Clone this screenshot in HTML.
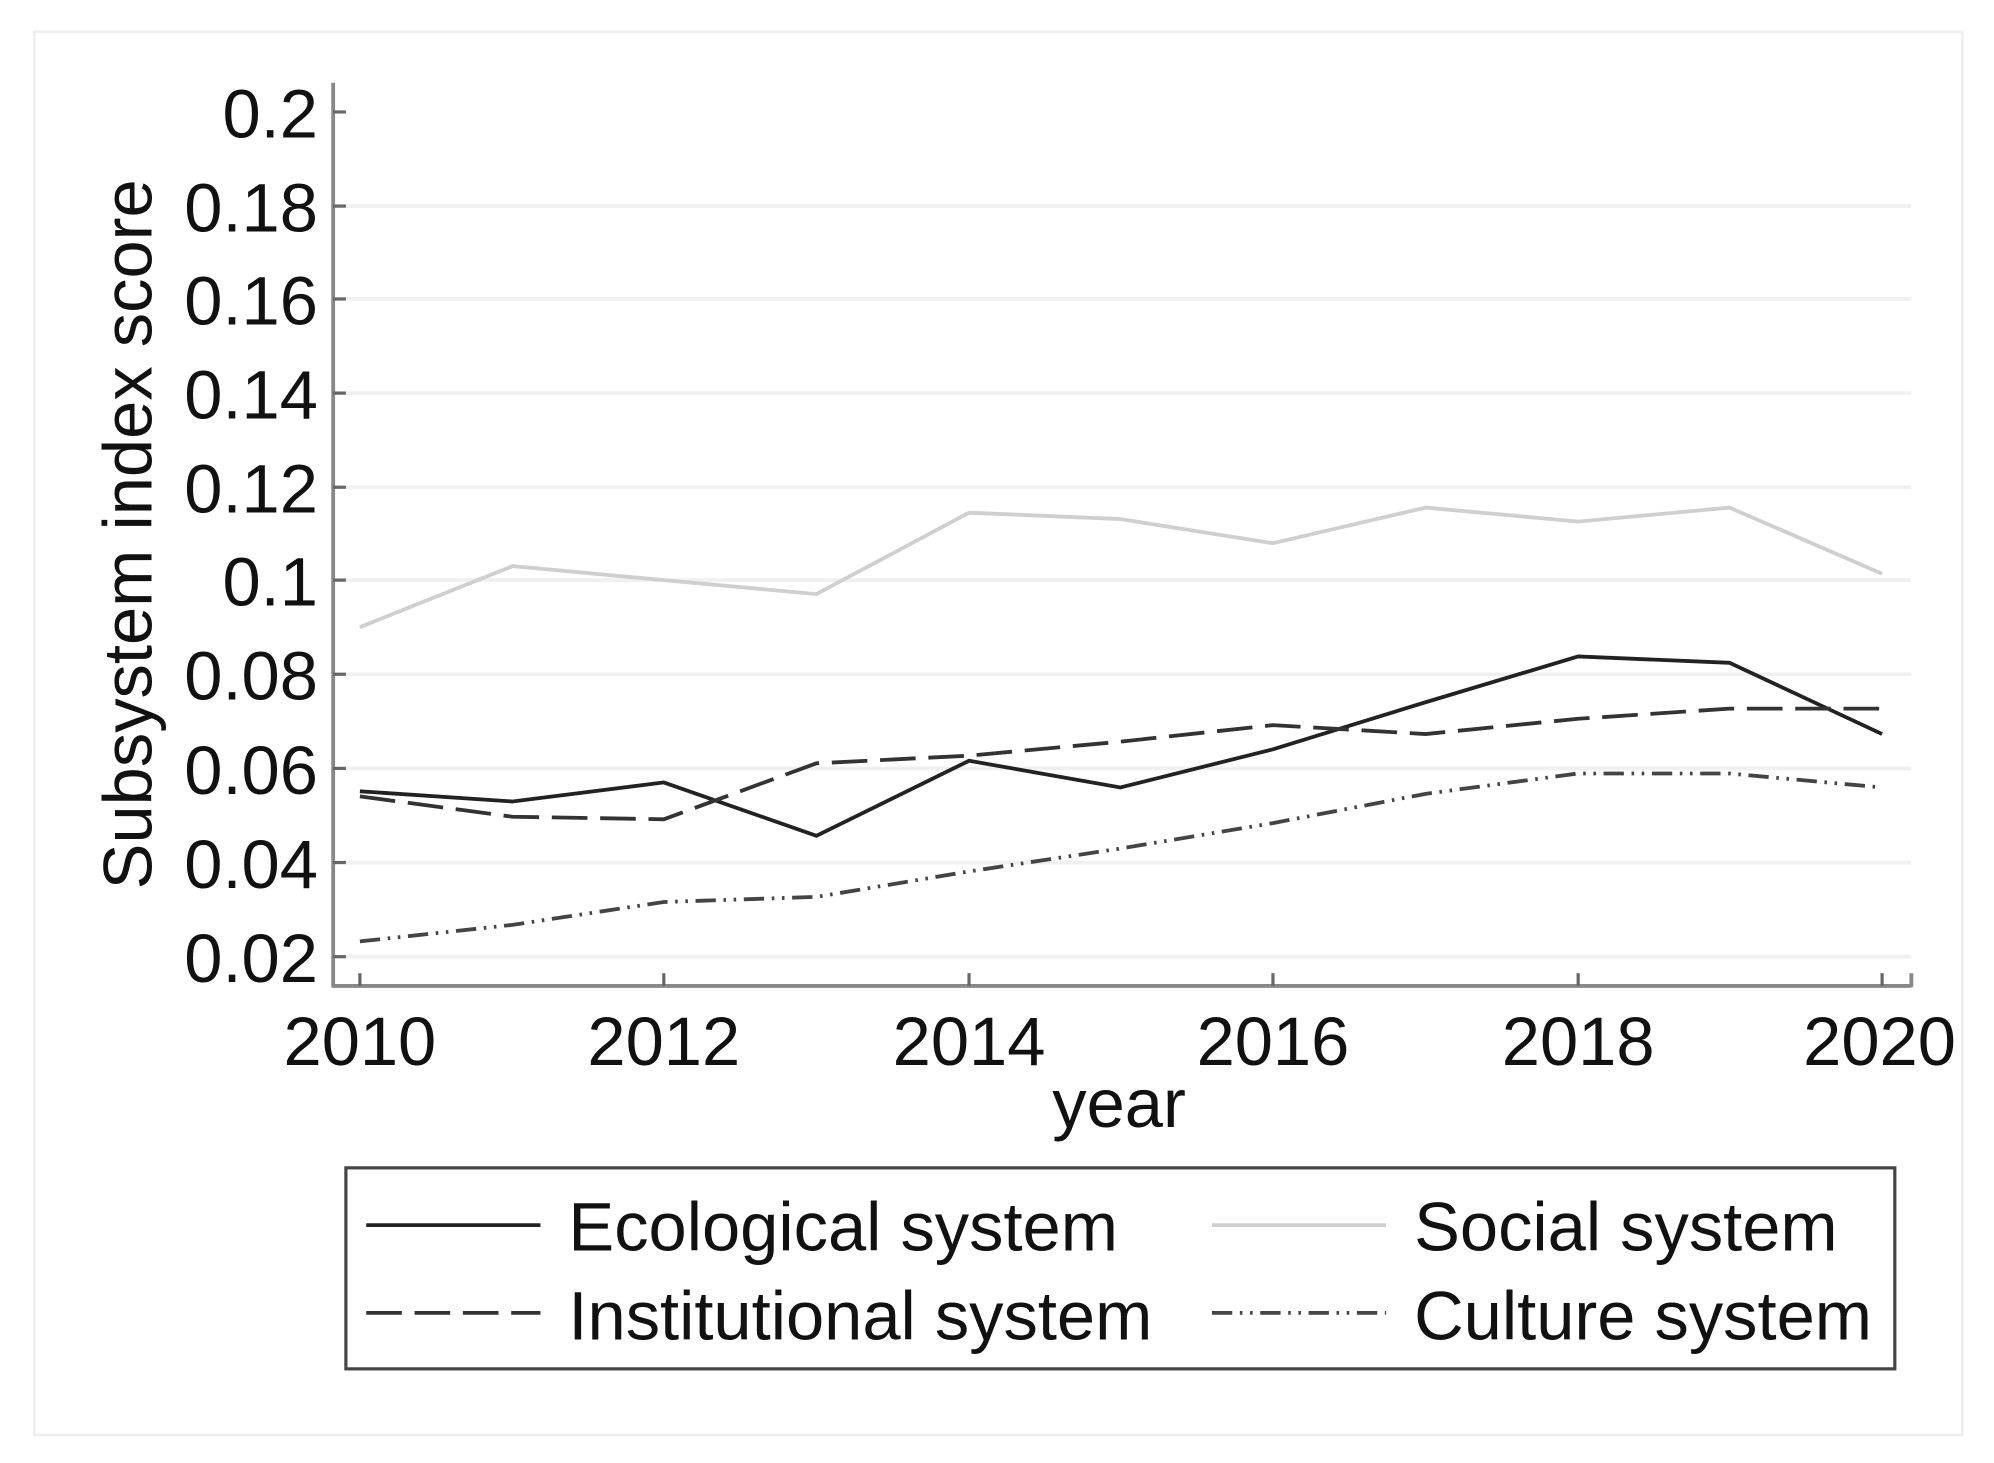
<!DOCTYPE html>
<html><head><meta charset="utf-8"><style>
html,body{margin:0;padding:0;background:#fff;}
svg{display:block;}
text{font-family:"Liberation Sans",Arial,sans-serif;fill:#111;}
</style></head><body>
<svg width="1994" height="1463" viewBox="0 0 1568 1150" preserveAspectRatio="none" xmlns="http://www.w3.org/2000/svg">
<rect x="0" y="0" width="1568" height="1150" fill="#fff"/>
<rect x="27" y="25" width="1516" height="1103" fill="none" stroke="#eeeeee" stroke-width="2"/>
<g stroke="#f0f0f0" stroke-width="3">
<line x1="262" x2="1503" y1="162" y2="162"/>
<line x1="262" x2="1503" y1="235" y2="235"/>
<line x1="262" x2="1503" y1="309" y2="309"/>
<line x1="262" x2="1503" y1="383" y2="383"/>
<line x1="262" x2="1503" y1="456" y2="456"/>
<line x1="262" x2="1503" y1="530" y2="530"/>
<line x1="262" x2="1503" y1="604" y2="604"/>
<line x1="262" x2="1503" y1="678" y2="678"/>
<line x1="262" x2="1503" y1="752" y2="752"/>
</g>
<g stroke="#888" stroke-width="3">
<line x1="262" y1="65" x2="262" y2="776"/>
<line x1="261" y1="775" x2="1503" y2="775"/>
<line x1="1503" y1="765" x2="1503" y2="776"/>
</g>
<g stroke="#666" stroke-width="2.5">
<line x1="262" x2="272" y1="88" y2="88"/><line x1="262" x2="272" y1="162" y2="162"/>
<line x1="262" x2="272" y1="235" y2="235"/><line x1="262" x2="272" y1="309" y2="309"/>
<line x1="262" x2="272" y1="383" y2="383"/><line x1="262" x2="272" y1="456" y2="456"/>
<line x1="262" x2="272" y1="530" y2="530"/><line x1="262" x2="272" y1="604" y2="604"/>
<line x1="262" x2="272" y1="678" y2="678"/><line x1="262" x2="272" y1="752" y2="752"/>
<line x1="283" x2="283" y1="765" y2="775"/><line x1="522" x2="522" y1="765" y2="775"/>
<line x1="762" x2="762" y1="765" y2="775"/><line x1="1001" x2="1001" y1="765" y2="775"/>
<line x1="1241" x2="1241" y1="765" y2="775"/><line x1="1480" x2="1480" y1="765" y2="775"/>
</g>
<g font-size="54" text-anchor="end">
<text x="250" y="108">0.2</text><text x="250" y="182">0.18</text>
<text x="250" y="255">0.16</text><text x="250" y="329">0.14</text>
<text x="250" y="403">0.12</text><text x="250" y="476">0.1</text>
<text x="250" y="550">0.08</text><text x="250" y="624">0.06</text>
<text x="250" y="698">0.04</text><text x="250" y="772">0.02</text>
</g>
<g font-size="54" text-anchor="middle">
<text x="283" y="837">2010</text><text x="522" y="837">2012</text>
<text x="762" y="837">2014</text><text x="1001" y="837">2016</text>
<text x="1241" y="837">2018</text><text x="1478" y="837">2020</text>
<text x="880" y="886">year</text>
</g>
<text font-size="54" text-anchor="middle" transform="translate(119,420) rotate(-90)">Subsystem index score</text>
<g fill="none" stroke-width="3">
<polyline stroke="#cfcfcf" points="283,493 403,445 522,456 642,467 762,403 881,408 1001,427 1121,399 1241,410 1360,399 1480,451"/>
<polyline stroke="#222" points="283,622 403,630 522,615 642,657 762,598 881,619 1001,589 1121,552 1241,516 1360,521 1480,577"/>
<polyline stroke="#333" stroke-dasharray="28,10" points="283,626 403,642 522,644 642,600 762,594 881,583 1001,570 1121,577 1241,565 1360,557 1480,557"/>
<polyline stroke="#444" stroke-dasharray="16,6,2,6,2,6" points="283,740 403,727 522,709 642,705 762,685 881,667 1001,647 1121,624 1241,608 1360,608 1480,619"/>
</g>
<rect x="272" y="918" width="1218" height="158" fill="#fff" stroke="#444" stroke-width="2.5"/>
<g stroke-width="3">
<line x1="288" x2="425" y1="963" y2="963" stroke="#222"/>
<line x1="953" x2="1090" y1="963" y2="963" stroke="#cfcfcf"/>
<line x1="288" x2="425" y1="1032" y2="1032" stroke="#333" stroke-dasharray="28,10"/>
<line x1="953" x2="1090" y1="1032" y2="1032" stroke="#444" stroke-dasharray="16,6,2,6,2,6"/>
</g>
<g font-size="54">
<text x="447" y="983">Ecological system</text>
<text x="1112" y="983">Social system</text>
<text x="447" y="1053">Institutional system</text>
<text x="1112" y="1053">Culture system</text>
</g>
</svg>
</body></html>
